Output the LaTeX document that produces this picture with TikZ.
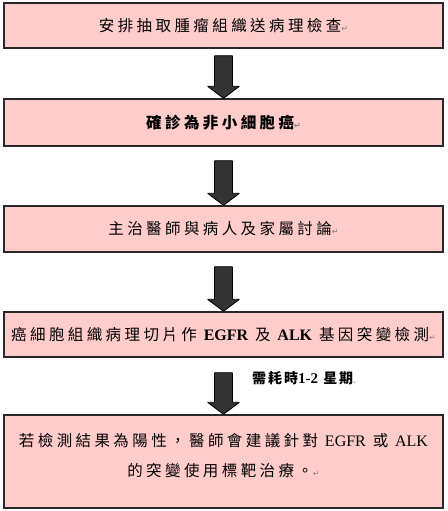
\documentclass[tikz,border=0pt]{standalone}
\usepackage{fontspec}
\usetikzlibrary{calc}
\setmainfont{Liberation Serif}
\newfontfamily\cjk[LetterSpace=22]{Noto Sans CJK TC}
\newfontfamily\cjklab[LetterSpace=14]{Noto Sans CJK TC}
\newfontfamily\dejavu{DejaVu Sans}
\definecolor{boxpink}{RGB}{255,204,204}
\definecolor{arrowgray}{RGB}{51,51,51}
\definecolor{edgegray}{RGB}{40,40,40}
\newcommand\pmark{{\color{gray}\dejavu\fontsize{8}{8}\selectfont ↵}}
\newcommand\latb[1]{{\rmfamily\bfseries\fontsize{16}{16}\selectfont #1}}
\newcommand\latr[1]{{\rmfamily\fontsize{16}{16}\selectfont #1}}
\tikzset{
  stepbox/.style={draw=edgegray, line width=1.4pt, fill=boxpink, minimum width=439pt,
    inner sep=0pt, font=\cjk\fontsize{15.5}{30}\selectfont},
  blk/.style={draw=black, fill=arrowgray, line width=0.8pt, rounded corners=0.5pt},
  lab/.style={inner sep=0pt, anchor=west, font=\cjklab\bfseries\fontsize{14}{16}\selectfont}
}
\newcommand\blkarrow[3]{%
  \draw[blk] ($(#1.south)+(-9,#3)$) -- ($(#2.north)+(-9,-12)$) -- ($(#2.north)+(-16,-12)$)
    -- (#2.north) -- ($(#2.north)+(16,-12)$) -- ($(#2.north)+(9,-12)$)
    -- ($(#1.south)+(9,#3)$) -- cycle;}
\begin{document}
\begin{tikzpicture}[x=1pt,y=-1pt]
\useasboundingbox (0,0) rectangle (447,511);
\node[stepbox, minimum height=45pt] (b1) at (223.5,25.5) {安排抽取腫瘤組織送病理檢查\pmark};
\node[stepbox, minimum height=47pt] (b2) at (223.5,122.5) {\bfseries 確診為非小細胞癌\pmark};
\node[stepbox, minimum height=46pt] (b3) at (223.5,229) {主治醫師與病人及家屬討論\pmark};
\node[stepbox, minimum height=45pt] (b4) at (223.5,334.5)
  {癌細胞組織病理切片作 \latb{EGFR} 及 \latb{ALK} 基因突變檢測\pmark};
\node[stepbox, minimum height=93pt, align=center] (b5) at (223.5,461.5)
  {若檢測結果為陽性，醫師會建議針對 \latr{EGFR} 或 \latr{ALK}\\
   的突變使用標靶治療。\pmark\rule[-13pt]{0pt}{1pt}};
\blkarrow{b1}{b2}{7}
\blkarrow{b2}{b3}{14}
\blkarrow{b3}{b4}{14}
\blkarrow{b4}{b5}{15}
\node[lab] (t4) at (252,378) {需耗時{\rmfamily\bfseries\fontsize{15}{15}\selectfont 1-2} 星期{\color{gray}\fontsize{7}{7}\selectfont .}};
\end{tikzpicture}
\end{document}
